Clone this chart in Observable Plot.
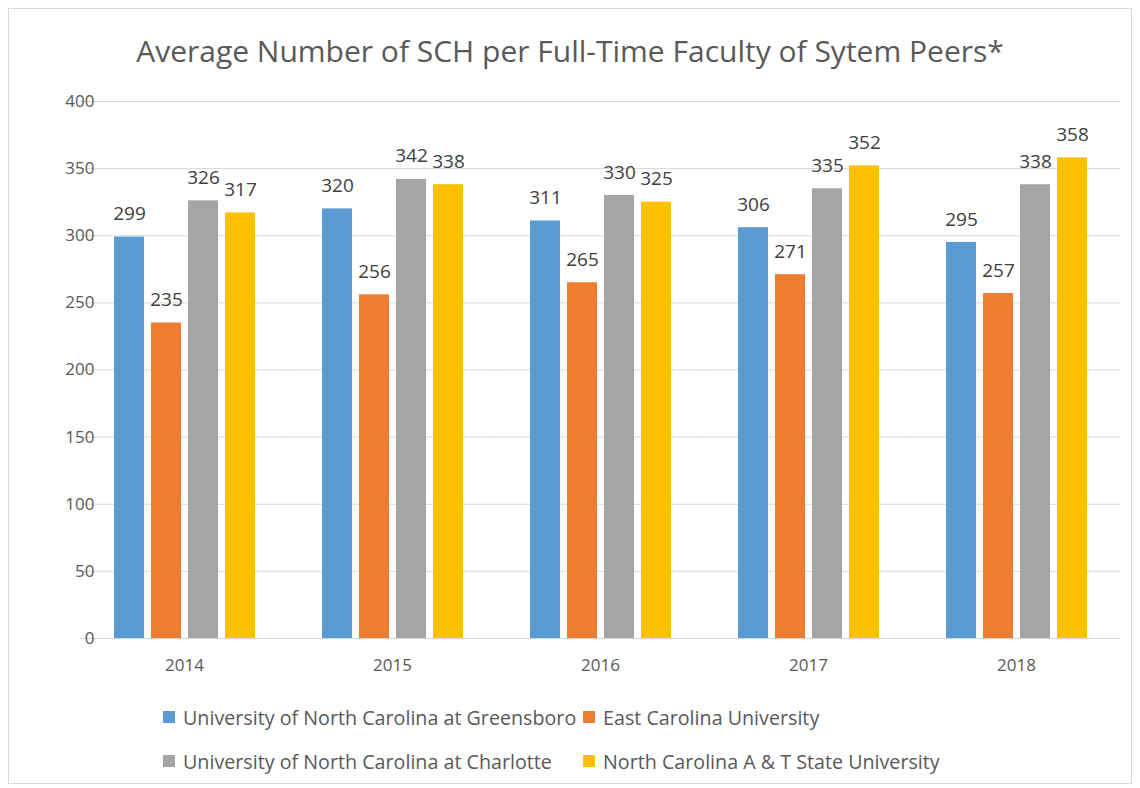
<!DOCTYPE html>
<html>
<head>
<meta charset="utf-8">
<script src="https://cdn.jsdelivr.net/npm/d3@7"></script>
<script src="https://cdn.jsdelivr.net/npm/@observablehq/plot@0.6"></script>
<style>
  html, body { margin: 0; padding: 0; background: #fff; }
  #frame { position: absolute; left: 8px; top: 8px; width: 1124px; height: 776px; border: 1px solid #d9d9d9; box-sizing: border-box; }
  #title { position: absolute; left: 0; top: 30px; width: 1140px; text-align: center; font-family: "Open Sans", sans-serif; font-size: 30px; color: #595959; }
  #chart { position: absolute; left: 0; top: 0; }
  #legend { position: absolute; left: 163px; top: 703px; display: grid; grid-template-columns: 420px 400px; row-gap: 16px; font-family: "Open Sans", sans-serif; font-size: 19.7px; color: #595959; }
  .item { display: flex; align-items: center; height: 28px; white-space: nowrap; }
  .sw { width: 12px; height: 12px; margin-right: 8px; flex: none; }
</style>
</head>
<body>
<div id="frame"></div>
<div id="title">Average Number of SCH per Full-Time Faculty of Sytem Peers*</div>
<div id="chart"></div>
<div id="legend"></div>
<script>
const years = ["2014", "2015", "2016", "2017", "2018"];
const seriesNames = [
  "University of North Carolina at Greensboro",
  "East Carolina University",
  "University of North Carolina at Charlotte",
  "North Carolina A & T State University"
];
const colors = ["#5B9BD5", "#ED7D31", "#A5A5A5", "#FFC000"];
const uncg = [299, 320, 311, 306, 295];
const ecu = [235, 256, 265, 271, 257];
const uncc = [326, 342, 330, 335, 338];
const ncat = [317, 338, 325, 352, 358];
const yTicks = [0, 50, 100, 150, 200, 250, 300, 350, 400];

const seriesValues = [uncg, ecu, uncc, ncat];
const data = years.flatMap((yr, i) =>
  seriesNames.map((s, j) => ({ year: yr, series: s, value: seriesValues[j][i] }))
);

const padInner = 0.31, padOuter = 0.155;
const plotW = 1140 - 80 - 20;
const step = plotW / years.length;
const ext = -padOuter * step;

const chart = Plot.plot({
  width: 1140,
  height: 690,
  marginTop: 101,
  marginBottom: 52,
  marginLeft: 80,
  marginRight: 20,
  style: { fontFamily: "Open Sans, sans-serif", background: "transparent" },
  fx: { domain: years, paddingInner: padInner, paddingOuter: padOuter, label: null },
  x: { domain: seriesNames, paddingInner: 0.2, paddingOuter: 0, axis: null },
  y: { domain: [0, 400], label: null, axis: null },
  color: { domain: seriesNames, range: colors },
  marks: [
    Plot.ruleY(yTicks, { y: d => d, stroke: "#d9d9d9", strokeWidth: 1, insetLeft: ext, insetRight: ext }),
    Plot.barY(data, { fx: "year", x: "series", y: "value", fill: "series" }),
    Plot.text(data, { fx: "year", x: "series", y: "value", text: d => String(d.value), dy: -23, fontSize: 19, fill: "#404040" }),
    Plot.axisY(yTicks, { tickSize: 0, tickPadding: 18, fontSize: 17, fill: "#595959", label: null, facetAnchor: "left" }),
    Plot.axisFx({ anchor: "bottom", tickSize: 0, tickPadding: 20, fontSize: 17, fill: "#595959", label: null })
  ]
});
document.getElementById("chart").appendChild(chart);

const legend = document.getElementById("legend");
[0, 1, 2, 3].forEach(j => {
  const it = document.createElement("div");
  it.className = "item";
  const sw = document.createElement("span");
  sw.className = "sw";
  sw.style.background = colors[j];
  const tx = document.createElement("span");
  tx.textContent = seriesNames[j];
  it.appendChild(sw);
  it.appendChild(tx);
  legend.appendChild(it);
});
</script>
</body>
</html>
